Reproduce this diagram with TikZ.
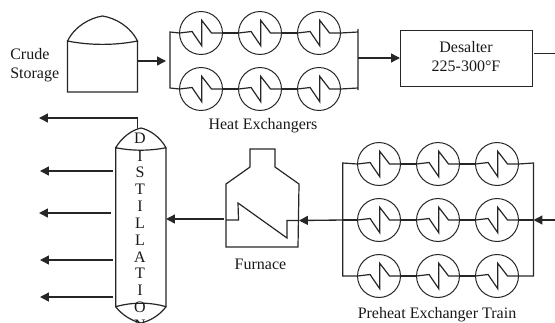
\documentclass[tikz,border=0pt]{standalone}
\usepackage{fontspec}
\setmainfont{Liberation Serif}
\usetikzlibrary{arrows.meta}
\tikzset{
  line/.style={line width=0.9pt,draw=black!85,line join=miter},
  flow/.style={line,line width=1pt,-{Triangle[length=6.6pt,width=6.6pt]}},
  hxc/.style={circle,draw=black!85,line width=0.75pt,minimum size=32.2pt,inner sep=0pt,outer sep=0pt},
  lbl/.style={font=\fontsize{12pt}{14.25pt}\selectfont,inner sep=0pt,align=center,text=black!90},
  col/.style={font=\fontsize{12pt}{12pt}\selectfont,inner sep=0pt,text=black!90},
}
\newcommand{\hx}[3]{%
  \node[hxc] (#1) at (#2,#3) {};
  \draw[line] (#1.west) -- ++(12.5,-1.5) -- ++(9.7,14.2) -- ++(0,-25.4) -- ++(9.8,12.7) -- (#1.east);
}
\begin{document}
\begin{tikzpicture}[x=0.75pt,y=-0.75pt]
\useasboundingbox (0,0) rectangle (555,322);
\clip (0,0) rectangle (555,322);
% crude storage tank
\coordinate (tankOut) at (137.5,61);
\draw[line] (67.5,41) .. controls (75,26) and (90,18) .. (102.5,16) .. controls (115,18) and (130,26) .. (137.5,41)
  .. controls (115,45.5) and (90,45.5) .. (67.5,41) -- (67.5,92) -- (137.5,92) -- (137.5,41);
\node[lbl,align=left,anchor=west] (crude) at (10,65.5) {Crude\\Storage};
% heat exchangers
\foreach \n/\x/\y in {a1/201/33,a2/260/33,a3/319/33,b1/201/89,b2/260/89,b3/319/89}{\hx{\n}{\x}{\y}}
\coordinate (al) at (170,32); \coordinate (bl) at (170,88);
\coordinate (art) at (358,29); \coordinate (ar) at (358,32); \coordinate (br) at (358,88); \coordinate (brb) at (358,90);
\coordinate (amid) at (166,61); \coordinate (rmid) at (358,58);
\draw[line] (a1.west) -- (al) -- (bl) -- (b1.west);
\draw[line] (a1.east) -- (a2.west) (a2.east) -- (a3.west) (b1.east) -- (b2.west) (b2.east) -- (b3.west);
\draw[line] (a3.east) -- (ar) (b3.east) -- (br) (art) -- (brb);
\draw[flow] (tankOut) -- (amid);
\node[lbl] (hxl) at (263,126) {Heat Exchangers};
% desalter
\node[draw=black!85,line width=0.75pt,minimum width=99pt,minimum height=42pt,inner sep=0pt,outer sep=0pt,lbl] (des) at (466,58) {};
\node[lbl] (desl) at (466,56.5) {Desalter\\225-300°F};
\draw[flow] (rmid) -- (des.west |- rmid);
\coordinate (desOut) at (555,53.5);
\draw[line] (534,53.5) -- (desOut);
% distillation column
\draw[line] (115.7,147.7) .. controls (122,137) and (132,130) .. (141,128) .. controls (150,130) and (160,137) .. (166,147.7)
  .. controls (150,151) and (132,151) .. (115.7,147.7) -- (115.7,306.7)
  .. controls (132,302) and (150,302) .. (166,306.7) -- (166,147.7);
\draw[line] (115.7,306.7) .. controls (122,315) and (132,321) .. (141,323) .. controls (150,321) and (160,315) .. (166,306.7);
\foreach \c/\y/\nm in {D/138/c1,I/156/c2,S/172/c3,T/189/c4,I/206/c5,L/223/c6,L/240/c7,A/257/c8,T/273/c9,I/290/c10,O/307/c11,N/325/c12}{
  \node[col] (\nm) at (140,\y) {\c};
}
\coordinate (topA) at (137.5,128); \coordinate (topB) at (137.5,118); \coordinate (topC) at (39,118);
\draw[line] (topA) -- (topB);
\draw[flow] (topB) -- (topC);
\foreach \ya/\xa/\xb in {171/113/40,213/111/39,260/113/40,297/113/40}{
  \coordinate (s) at (\xa,\ya); \coordinate (e) at (\xb,\ya);
  \draw[flow] (s) -- (e);
}
% furnace
\draw[line] (226,184) -- (250,167) -- (250,149) -- (275,149) -- (275,167) -- (299,184) -- (298,247) -- (226,247) -- cycle;
\coordinate (fOut) at (224,219); \coordinate (cIn) at (166,219);
\draw[flow] (fOut) -- (cIn);
\draw[line] (226,220) -- (238.5,220) -- (238,203) -- (287,238) -- (287,220.5) -- (298,220.5);
\node[lbl] (fur) at (260.5,264) {Furnace};
% preheat train
\foreach \n/\x/\y in {p1/379/164,p2/438/164,p3/497/164,q1/379/220,q2/438/220,q3/497/220,r1/379/276,r2/438/276,r3/497/276}{\hx{\n}{\x}{\y}}
\coordinate (pl) at (342.7,163); \coordinate (ql) at (342.7,220); \coordinate (rl) at (342.7,276);
\coordinate (pr) at (533.5,163); \coordinate (qr) at (533.5,220); \coordinate (rr) at (533.5,276);
\draw[line] (p1.west) -- (pl) -- (rl) -- (r1.west);
\draw[line] (q1.west) -- (ql);
\draw[line] (p3.east) -- (pr) -- (rr) -- (r3.east);
\draw[line] (q3.east) -- (qr);
\foreach \a/\b in {p1/p2,p2/p3,q1/q2,q2/q3,r1/r2,r2/r3}{\draw[line] (\a.east) -- (\b.west);}
\coordinate (fIn) at (299,220.5);
\draw[flow] (ql) -- (fIn);
\coordinate (qIn) at (555,220);
\draw[flow] (qIn) -- (qr);
\node[lbl] (prel) at (437,314.5) {Preheat Exchanger Train};
\end{tikzpicture}
\end{document}
